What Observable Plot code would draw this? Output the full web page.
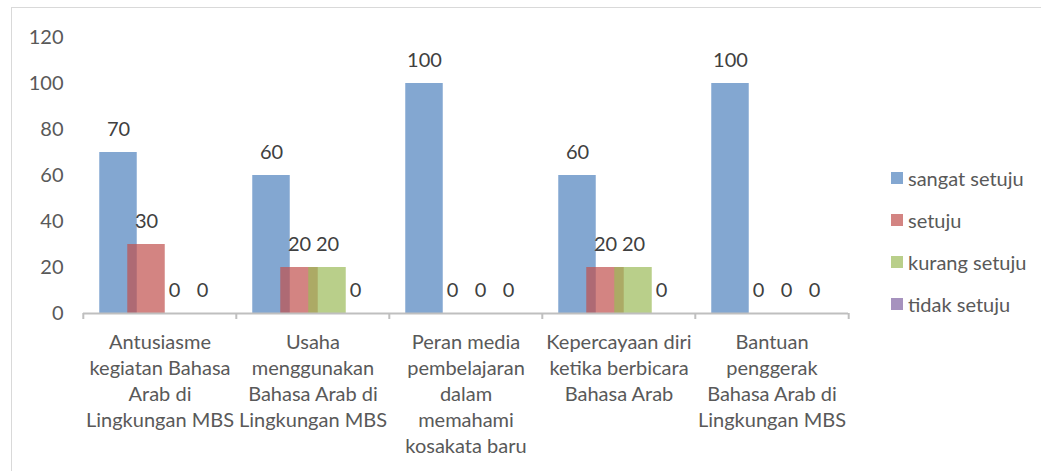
<!DOCTYPE html>
<html>
<head>
<meta charset="utf-8">
<script src="https://cdn.jsdelivr.net/npm/d3@7"></script>
<script src="https://cdn.jsdelivr.net/npm/@observablehq/plot@0.6"></script>
<style>
  html, body { margin: 0; padding: 0; background: #fff; }
  #wrap { position: relative; width: 1041px; height: 471px; overflow: hidden; font-family: Lato, "Open Sans", sans-serif; color: #595959; }
  #frame { position: absolute; left: 11px; top: 7px; width: 1200px; height: 600px; border-left: 1.5px solid #D9D9D9; border-top: 1.5px solid #D9D9D9; }
  #chart { position: absolute; left: 0; top: 0; }
  .leg { position: absolute; left: 891px; display: flex; align-items: center; font-size: 20px; white-space: nowrap; }
  .leg span.sw { display: inline-block; width: 12px; height: 12px; margin-right: 5px; }
</style>
</head>
<body>
<div id="wrap"><div id="frame"></div><div id="chart"></div></div>
<script>
const categories = [
  "Antusiasme kegiatan Bahasa Arab di Lingkungan MBS",
  "Usaha menggunakan Bahasa Arab di Lingkungan MBS",
  "Peran media pembelajaran dalam memahami kosakata baru",
  "Kepercayaan diri ketika berbicara Bahasa Arab",
  "Bantuan penggerak Bahasa Arab di Lingkungan MBS"
];
const categoryLabels = [
  "Antusiasme\nkegiatan Bahasa\nArab di\nLingkungan MBS",
  "Usaha\nmenggunakan\nBahasa Arab di\nLingkungan MBS",
  "Peran media\npembelajaran\ndalam\nmemahami\nkosakata baru",
  "Kepercayaan diri\nketika berbicara\nBahasa Arab",
  "Bantuan\npenggerak\nBahasa Arab di\nLingkungan MBS"
];
const series = ["sangat setuju", "setuju", "kurang setuju", "tidak setuju"];
const sangatSetuju = [70, 60, 100, 60, 100];
const setuju = [30, 20, 0, 20, 0];
const kurangSetuju = [0, 20, 0, 20, 0];
const tidakSetuju = [0, 0, 0, 0, 0];
const yTicks = [0, 20, 40, 60, 80, 100, 120];
const colors = ["#4F81BD", "#C0504D", "#9BBB59", "#8064A2"];

const valuesBySeries = [sangatSetuju, setuju, kurangSetuju, tidakSetuju];
const data = [];
series.forEach((s, si) => {
  categories.forEach((c, ci) => data.push({category: c, series: s, value: valuesBySeries[si][ci]}));
});
const labelOf = new Map(categories.map((c, i) => [c, categoryLabels[i]]));

const chart = Plot.plot({
  width: 1041,
  height: 471,
  marginLeft: 82,
  marginRight: 192,
  marginTop: 37,
  marginBottom: 158,
  style: {fontFamily: "Lato, 'Open Sans', sans-serif", fontSize: "20px", color: "#595959", background: "transparent"},
  fx: {domain: categories, padding: 0, axis: null, label: null},
  x: {domain: series, paddingInner: 0, paddingOuter: 0.691, axis: null},
  y: {domain: [0, 120], label: null},
  color: {domain: series, range: colors},
  marks: [
    Plot.axisY({ticks: yTicks, tickSize: 0, tickPadding: 20, label: null, fontSize: 20}),
    Plot.barY(data, {fx: "category", x: "series", y: "value", fill: "series", fillOpacity: 0.7, insetLeft: -4.75, insetRight: -4.75}),
    Plot.text(data, {fx: "category", x: "series", y: "value", text: d => String(d.value), dy: -23, lineAnchor: "middle", fill: "#404040", fontSize: 20}),
    Plot.ruleY([0], {stroke: "#BFBFBF", strokeWidth: 2}),
    Plot.axisFx({anchor: "bottom", tickSize: 6, tickFormat: () => "", dx: -76.7, stroke: "#BFBFBF", strokeWidth: 2, label: null}),
    Plot.axisFx({anchor: "bottom", ticks: [categories[4]], tickSize: 6, tickFormat: () => "", dx: 76.7, stroke: "#BFBFBF", strokeWidth: 2, label: null}),
    Plot.text(categories, {fx: d => d, frameAnchor: "bottom", text: d => labelOf.get(d), lineAnchor: "top", lineHeight: 1.3, dy: 17, fontSize: 20})
  ]
});
document.getElementById("chart").appendChild(chart);

const wrap = document.getElementById("wrap");
series.forEach((s, i) => {
  const item = document.createElement("div");
  item.className = "leg";
  item.style.top = (166 + i * 42) + "px";
  item.style.height = "24px";
  const sw = document.createElement("span");
  sw.className = "sw";
  sw.style.background = colors[i];
  sw.style.opacity = 0.7;
  item.appendChild(sw);
  const t = document.createElement("span");
  t.textContent = s;
  item.appendChild(t);
  wrap.appendChild(item);
});
</script>
</body>
</html>
